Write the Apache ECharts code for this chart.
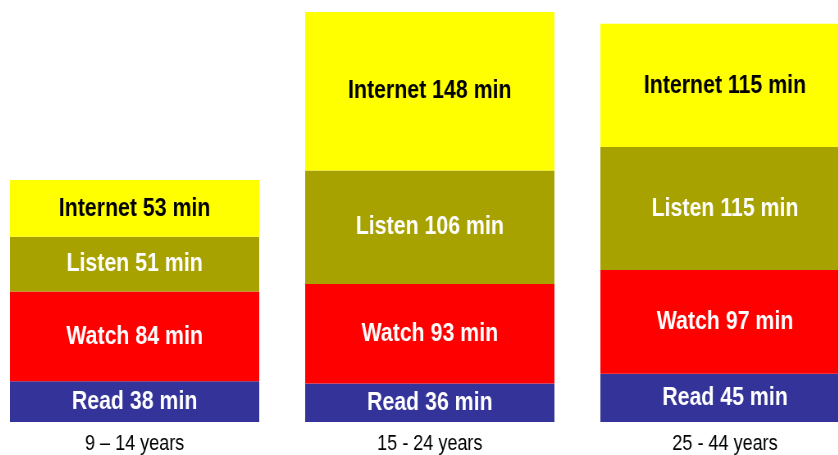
<!DOCTYPE html>
<html>
<head>
<meta charset="utf-8">
<style>
  html, body { margin: 0; padding: 0; background: #ffffff; overflow: hidden; }
  body { width: 838px; height: 455px; position: relative; }
  /* The chart is laid out wider and then squeezed horizontally,
     which gives the condensed lettering of the labels. */
  #chart {
    position: absolute;
    left: -13px;
    top: 0;
    width: 1080px;
    height: 455px;
    transform: scaleX(0.82);
    transform-origin: 0 0;
  }
</style>
<script src="https://cdn.jsdelivr.net/npm/echarts@6/dist/echarts.min.js"></script>
</head>
<body>
<div id="chart"></div>
<script>
// Age groups along the horizontal axis
const ageGroups = ['9 \u2013 14 years', '15 - 24 years', '25 - 44 years'];

// Daily minutes per activity, stacked bottom to top
const readMinutes = [38, 36, 45];
const watchMinutes = [84, 93, 97];
const listenMinutes = [51, 106, 115];
const internetMinutes = [53, 148, 115];

const activityNames = ['Read', 'Watch', 'Listen', 'Internet'];
const activityValues = [readMinutes, watchMinutes, listenMinutes, internetMinutes];
const activityColors = ['#333399', '#FF0000', '#A8A200', '#FFFF00'];
const labelColors = ['#ffffff', '#ffffff', '#ffffff', '#000000'];

const sans = "'Liberation Sans', Arial, sans-serif";

const chart = echarts.init(document.getElementById('chart'), null, { renderer: 'canvas' });

const series = activityNames.map((name, i) => ({
  name: name,
  type: 'bar',
  stack: 'time',
  barWidth: 304,
  data: activityValues[i],
  itemStyle: { color: activityColors[i] },
  label: {
    show: true,
    position: 'inside',
    formatter: (p) => name + ' ' + p.value + ' min',
    color: labelColors[i],
    fontFamily: sans,
    fontWeight: 'bold',
    fontSize: 26,
    textBorderWidth: 0
  }
}));

chart.setOption({
  animation: false,
  backgroundColor: '#ffffff',
  grid: { left: 0, right: 0, top: 12, bottom: 30, containLabel: false },
  xAxis: {
    type: 'category',
    data: ageGroups,
    axisLine: { show: false },
    axisTick: { show: false },
    axisLabel: {
      color: '#000000',
      fontFamily: sans,
      fontSize: 22,
      margin: 11
    }
  },
  yAxis: {
    type: 'value',
    min: 0,
    max: 383,
    show: false,
    splitLine: { show: false }
  },
  series: series
});
</script>
</body>
</html>
